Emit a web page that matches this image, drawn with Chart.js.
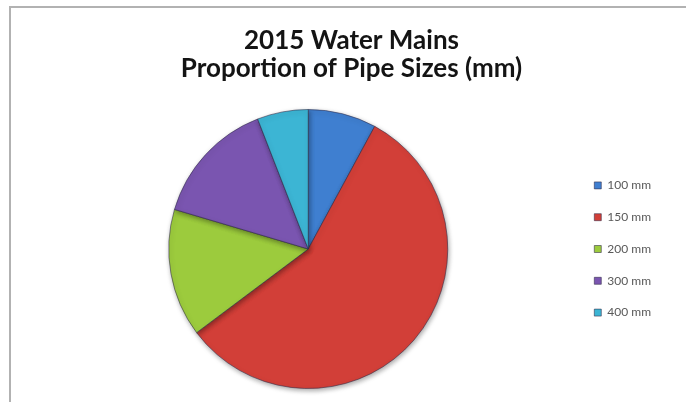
<!DOCTYPE html>
<html>
<head>
<meta charset="utf-8">
<script src="https://cdn.jsdelivr.net/npm/chart.js@4/dist/chart.umd.min.js"></script>
<style>
  html, body { margin: 0; padding: 0; background: #ffffff; width: 686px; height: 402px; overflow: hidden; }
  #frame { position: absolute; left: 9px; top: 6px; width: 700px; height: 420px;
           border-left: 2px solid #b2b2b2; border-top: 2px solid #b2b2b2; box-sizing: border-box; }
  #wrap { position: absolute; left: 10px; top: 0px; width: 692px; height: 402px; }
</style>
</head>
<body>
<div id="frame"></div>
<div id="wrap"><canvas id="c" width="692" height="402"></canvas></div>
<script>
const titleLines = ['2015 Water Mains', 'Proportion of Pipe Sizes (mm)'];
const categories = ['100 mm', '150 mm', '200 mm', '300 mm', '400 mm'];
const shares = [7.9, 56.8, 14.8, 14.5, 5.9];
const sliceColors = ['#3f7fd0', '#d23f38', '#9ccb3d', '#7a55b0', '#3cb5d4'];

const shadowPlugin = {
  id: 'softShadow',
  beforeDatasetDraw(chart) {
    const ctx = chart.ctx;
    ctx.save();
    ctx.shadowColor = 'rgba(0,0,0,0.35)';
    ctx.shadowBlur = 5;
    ctx.shadowOffsetX = 1;
    ctx.shadowOffsetY = 2;
  },
  afterDatasetDraw(chart) {
    chart.ctx.restore();
  }
};

new Chart(document.getElementById('c'), {
  type: 'pie',
  data: {
    labels: categories,
    datasets: [{
      data: shares,
      backgroundColor: sliceColors,
      borderColor: 'rgba(45,40,70,0.55)',
      borderWidth: 1
    }]
  },
  plugins: [shadowPlugin],
  options: {
    responsive: false,
    animation: false,
    layout: { padding: { left: 32, right: 41, top: 0, bottom: 13 } },
    plugins: {
      tooltip: { enabled: false },
      title: {
        display: true,
        text: titleLines,
        color: '#141414',
        font: { family: 'Lato', size: 26, weight: 'bold', lineHeight: 1.077 },
        padding: { top: 27, bottom: 26 }
      },
      legend: {
        display: true,
        position: 'right',
        align: 'center',
        fullSize: false,
        labels: {
          color: '#595959',
          font: { family: 'Lato', size: 12 },
          boxWidth: 7,
          boxHeight: 7,
          padding: 19.8
        }
      }
    }
  }
});
</script>
</body>
</html>
